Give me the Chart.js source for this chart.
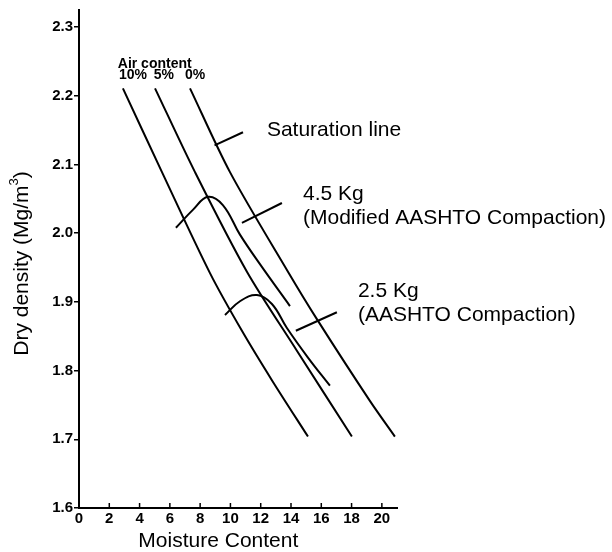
<!DOCTYPE html>
<html>
<head>
<meta charset="utf-8">
<script src="https://cdn.jsdelivr.net/npm/chart.js@4/dist/chart.umd.min.js"></script>
<style>
  html, body { margin: 0; padding: 0; background: #fff; }
  canvas { display: block; }
</style>
</head>
<body>
<canvas id="chart" width="612" height="552"></canvas>
<script>
// axis ticks
const moistureTicks = [0, 2, 4, 6, 8, 10, 12, 14, 16, 18, 20]
const densityTicks = [1.6, 1.7, 1.8, 1.9, 2.0, 2.1, 2.2, 2.3]

// air content lines
const air10Moisture = [2.90, 5.48, 8.65, 10.76, 12.77, 15.12]
const air10Density = [2.211, 2.089, 1.942, 1.858, 1.785, 1.704]
const air5Moisture = [5.02, 7.66, 11.09, 14.39, 18.02]
const air5Density = [2.211, 2.089, 1.944, 1.829, 1.704]
const air0Moisture = [7.33, 9.97, 13.80, 15.71, 19.21, 20.86]
const air0Density = [2.211, 2.089, 1.944, 1.875, 1.756, 1.704]

// compaction curves
const modMoisture = [6.40, 7.52, 8.51, 9.50, 10.63, 11.95, 13.93]
const modDensity = [2.008, 2.034, 2.053, 2.041, 1.998, 1.955, 1.894]
const stdMoisture = [9.64, 10.63, 11.75, 12.74, 13.73, 15.12, 16.57]
const stdDensity = [1.881, 1.901, 1.910, 1.897, 1.862, 1.819, 1.778]

// leader lines to the labels
const satLeaderMoisture = [8.95, 10.83]
const satLeaderDensity = [2.128, 2.147]
const modLeaderMoisture = [10.76, 13.40]
const modLeaderDensity = [2.015, 2.044]
const stdLeaderMoisture = [14.32, 17.03]
const stdLeaderDensity = [1.858, 1.885]

const zip = (xs, ys) => xs.map((x, i) => ({ x: x, y: ys[i] }))

const lineSet = (xs, ys, tension) => ({
    data: zip(xs, ys),
    borderColor: '#000',
    borderWidth: 2,
    pointRadius: 0,
    tension: tension,
    fill: false
})

const tickFont = '"Liberation Sans", Arial, sans-serif'
const textFont = '"Liberation Sans", Arial, sans-serif'

// labels placed in data units
const notes = [
    { text: 'Saturation line', x: 12.41, y: 2.141 },
    { text: '4.5 Kg', x: 14.79, y: 2.049 },
    { text: '(Modified AASHTO Compaction)', x: 14.79, y: 2.014 },
    { text: '2.5 Kg', x: 18.42, y: 1.907 },
    { text: '(AASHTO Compaction)', x: 18.42, y: 1.872 }
]
const airNotes = [
    { text: 'Air content', x: 5.0, y: 2.241 },
    { text: '10%', x: 3.56, y: 2.224 },
    { text: '5%', x: 5.61, y: 2.224 },
    { text: '0%', x: 7.66, y: 2.224 }
]

const overlay = {
    id: 'overlay',
    afterDraw(chart) {
        const ctx = chart.ctx
        const xs = chart.scales.x
        const ys = chart.scales.y
        ctx.save()
        // inward ticks on the moisture axis
        ctx.strokeStyle = '#000'
        ctx.lineWidth = 1.5
        moistureTicks.forEach(v => {
            const px = xs.getPixelForValue(v)
            ctx.beginPath()
            ctx.moveTo(px, ys.bottom)
            ctx.lineTo(px, ys.bottom - 5)
            ctx.stroke()
        })
        ctx.fillStyle = '#000'
        ctx.textBaseline = 'alphabetic'
        ctx.textAlign = 'left'
        ctx.font = '21px ' + textFont
        notes.forEach(n => {
            ctx.fillText(n.text, xs.getPixelForValue(n.x), ys.getPixelForValue(n.y))
        })
        ctx.textAlign = 'center'
        ctx.font = 'bold 14px ' + tickFont
        airNotes.forEach(n => {
            ctx.fillText(n.text, xs.getPixelForValue(n.x), ys.getPixelForValue(n.y))
        })
        // x axis title
        ctx.font = '21px ' + textFont
        ctx.textBaseline = 'middle'
        ctx.fillText('Moisture Content', xs.getPixelForValue(9.2), 541)
        // y axis title with superscript
        ctx.translate(22, ys.getPixelForValue(1.956))
        ctx.rotate(-Math.PI / 2)
        const main = 'Dry density (Mg/m'
        ctx.font = '21px ' + textFont
        const w1 = ctx.measureText(main).width
        ctx.font = '13px ' + textFont
        const w2 = ctx.measureText('3').width
        ctx.font = '21px ' + textFont
        const w3 = ctx.measureText(')').width
        const start = -(w1 + w2 + w3) / 2
        ctx.textAlign = 'left'
        ctx.fillText(main, start, 0)
        ctx.font = '13px ' + textFont
        ctx.fillText('3', start + w1, -8)
        ctx.font = '21px ' + textFont
        ctx.fillText(')', start + w1 + w2, 0)
        ctx.restore()
    }
}

new Chart(document.getElementById('chart'), {
    type: 'line',
    data: {
        datasets: [
            lineSet(air10Moisture, air10Density, 0.3),
            lineSet(air5Moisture, air5Density, 0.3),
            lineSet(air0Moisture, air0Density, 0.3),
            lineSet(modMoisture, modDensity, 0.4),
            lineSet(stdMoisture, stdDensity, 0.4),
            lineSet(satLeaderMoisture, satLeaderDensity, 0),
            lineSet(modLeaderMoisture, modLeaderDensity, 0),
            lineSet(stdLeaderMoisture, stdLeaderDensity, 0)
        ]
    },
    options: {
        responsive: false,
        animation: false,
        layout: { padding: { top: 8, right: 215, left: 0, bottom: 0 } },
        plugins: {
            legend: { display: false },
            tooltip: { enabled: false }
        },
        scales: {
            x: {
                type: 'linear',
                min: 0,
                max: 21,
                afterBuildTicks: s => { s.ticks = moistureTicks.map(v => ({ value: v })) },
                afterFit: s => { s.height = 44 },
                grid: { display: false, drawTicks: false },
                border: { display: true, color: '#000', width: 2 },
                ticks: {
                    color: '#000',
                    padding: 2,
                    maxRotation: 0,
                    autoSkip: false,
                    font: { family: tickFont, size: 15, weight: 'bold' },
                    callback: v => String(v)
                }
            },
            y: {
                type: 'linear',
                min: 1.6,
                max: 2.325,
                afterBuildTicks: s => { s.ticks = densityTicks.map(v => ({ value: v })) },
                afterFit: s => { s.width = 79 },
                grid: { display: true, drawOnChartArea: false, color: '#000', lineWidth: 1.5, tickLength: 5 },
                border: { display: true, color: '#000', width: 2 },
                ticks: {
                    color: '#000',
                    padding: 1,
                    autoSkip: false,
                    font: { family: tickFont, size: 15, weight: 'bold' },
                    callback: v => v.toFixed(1)
                }
            }
        }
    },
    plugins: [overlay]
})
</script>
</body>
</html>
